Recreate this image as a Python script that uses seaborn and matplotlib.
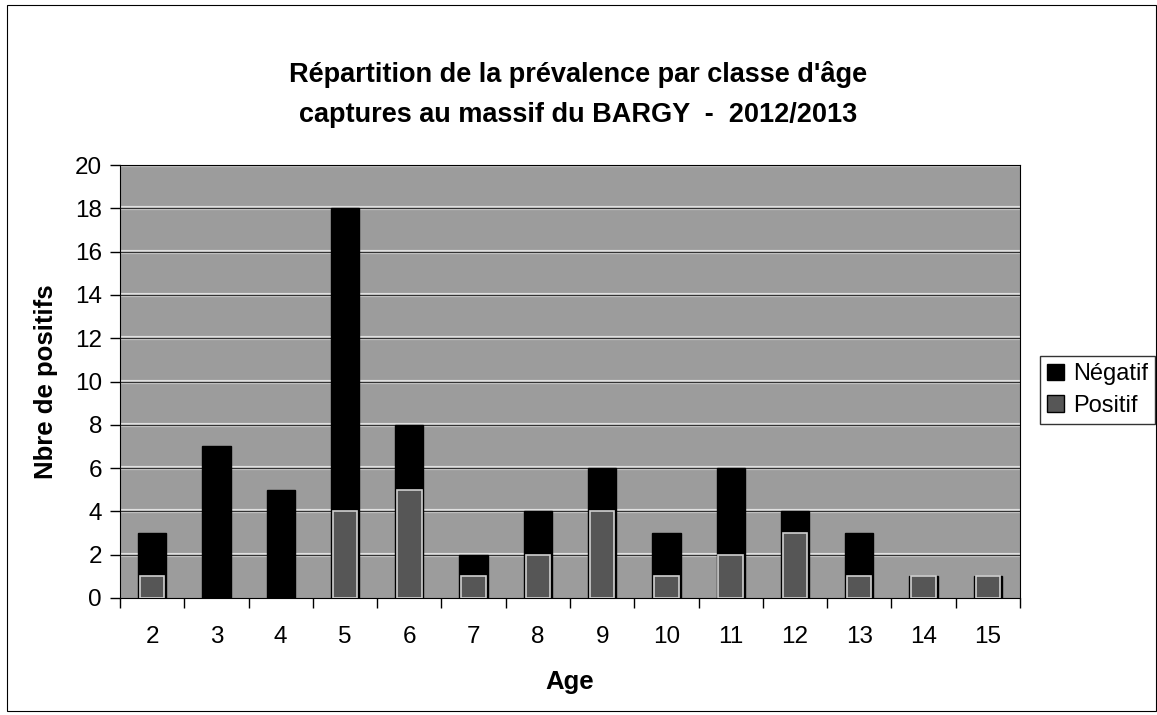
import numpy as np
import pandas as pd
import matplotlib.pyplot as plt
import seaborn as sns
from matplotlib.patches import Patch, Rectangle

# values
ages = ['2', '3', '4', '5', '6', '7', '8', '9', '10', '11', '12', '13', '14', '15']
positif = [1, 0, 0, 4, 5, 1, 2, 4, 1, 2, 3, 1, 1, 1]
negatif = [2, 7, 5, 14, 3, 1, 2, 2, 2, 4, 1, 2, 0, 0]

df = pd.DataFrame({'Age': ages, 'Positif': positif, 'Negatif': negatif})
df['Total'] = df['Positif'] + df['Negatif']

sns.set_style('white')
plt.rcParams['font.family'] = ['Liberation Sans', 'DejaVu Sans']
plt.rcParams['text.color'] = 'black'
plt.rcParams['axes.labelcolor'] = 'black'
plt.rcParams['xtick.color'] = 'black'
plt.rcParams['ytick.color'] = 'black'

fig = plt.figure(figsize=(11.57, 7.15), dpi=100)
ax = fig.add_axes([120 / 1157, 1 - 598 / 715, 900 / 1157, 433 / 715])
ax.set_facecolor('#9c9c9c')

# stacked bars: total in black, positives drawn on top from zero
sns.barplot(data=df, x='Age', y='Total', order=ages, color='black',
            width=0.44, edgecolor='black', linewidth=1, saturation=1, ax=ax, zorder=3)
sns.barplot(data=df[df['Positif'] > 0], x='Age', y='Positif', order=ages, color='#565656',
            width=0.38, edgecolor='#d0d0d0', linewidth=1.2, saturation=1, ax=ax, zorder=4)

ax.set_ylim(0, 20)
ax.set_xlim(-0.5, len(ages) - 0.5)
ax.set_yticks(range(0, 21, 2))
for y in range(2, 21, 2):
    ax.axhline(y, color='#e0e0e0', linewidth=3, zorder=1)
    ax.axhline(y, color='#333333', linewidth=1, zorder=2)

# ticks between categories like the original
ax.set_xticks(np.arange(len(ages) + 1) - 0.5, minor=True)
ax.tick_params(axis='x', which='major', length=0, pad=20, labelsize=17.5)
ax.tick_params(axis='x', which='minor', length=7, width=1, direction='out', bottom=True)
ax.tick_params(axis='y', labelsize=17.5, length=7, width=1, pad=6, direction='out', left=True)
for s in ['top', 'right', 'left', 'bottom']:
    ax.spines[s].set_color('black')

ax.set_xlabel('Age', fontsize=18.5, fontweight='bold', labelpad=16)
ax.set_ylabel('Nbre de positifs', fontsize=18.5, fontweight='bold', labelpad=12)

fig.text(0.5, 1 - 95 / 715, "Répartition de la prévalence par classe d'âge\ncaptures au massif du BARGY  -  2012/2013",
         ha='center', va='center', fontsize=19.5, fontweight='bold', linespacing=1.7)

handles = [Patch(facecolor='black', edgecolor='black', label='Négatif'),
           Patch(facecolor='#565656', edgecolor='black', label='Positif')]
fig.legend(handles=handles, loc='center left', bbox_to_anchor=(1040 / 1157, 1 - 390 / 715),
           fontsize=17, frameon=True, fancybox=False, edgecolor='black',
           handlelength=0.7, handleheight=0.7, handletextpad=0.4, borderpad=0.3,
           labelspacing=0.4, borderaxespad=0)

# outer frame of the chart
fig.patches.append(Rectangle((0.006, 0.005), 0.993, 0.988, transform=fig.transFigure,
                             fill=False, edgecolor='black', linewidth=0.8))

plt.savefig('out.png', dpi=100)
